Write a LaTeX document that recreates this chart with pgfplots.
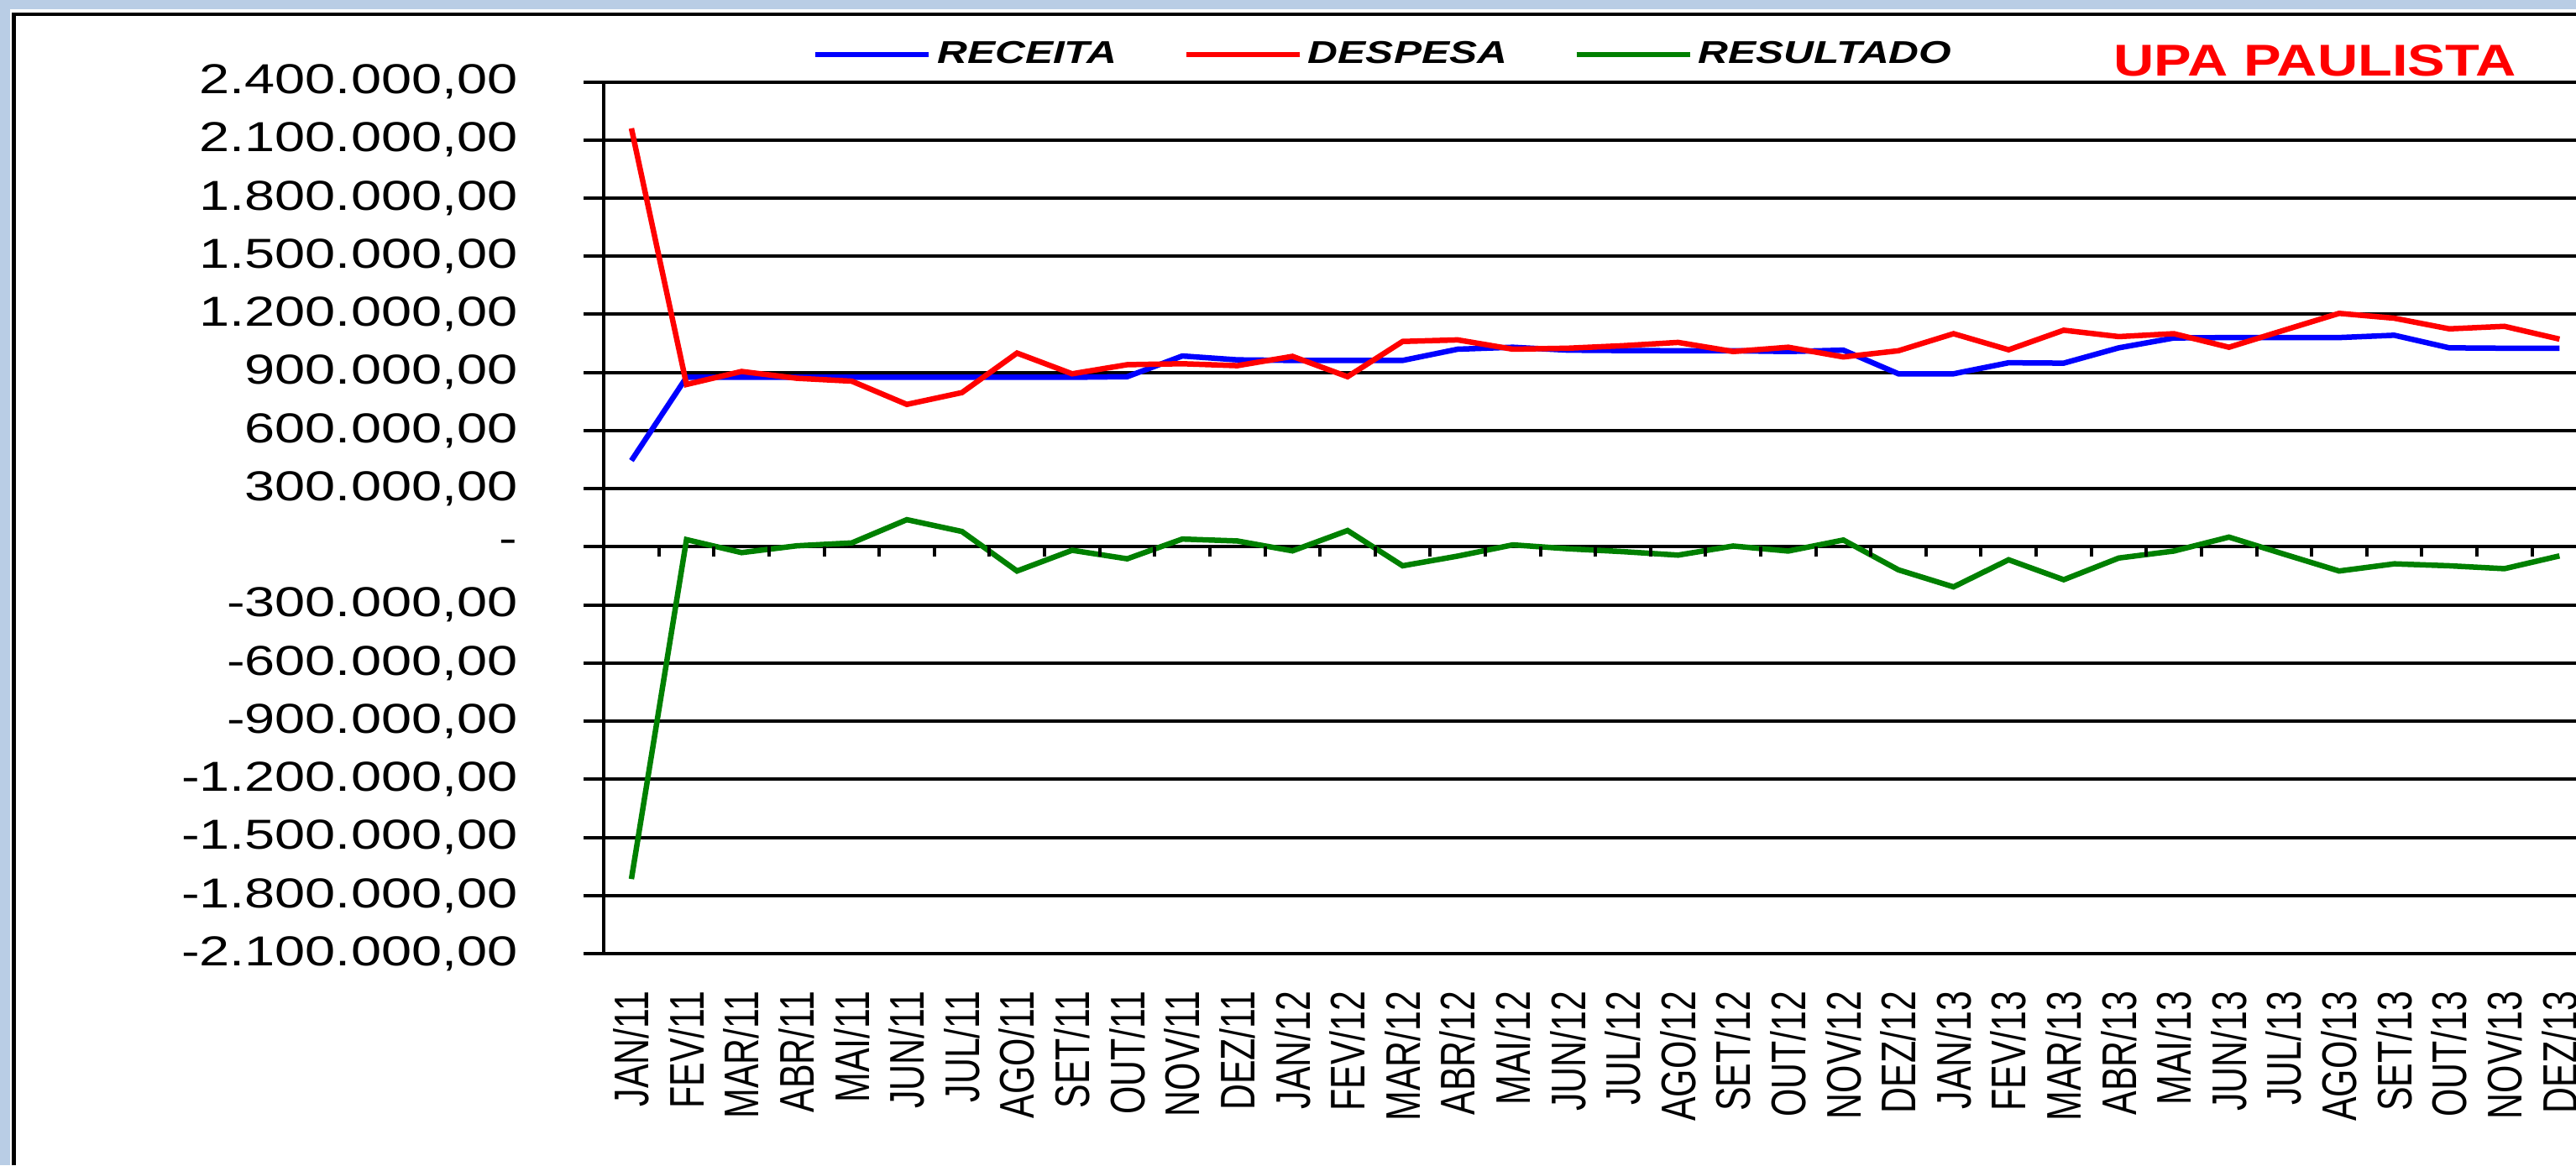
\documentclass[border=0pt]{standalone}
\usepackage{pgfplots}
\pgfplotsset{compat=1.18}
\usepackage{pgfplotstable}
\usepackage{graphicx}
\usepackage{fontspec}
\setmainfont{Liberation Sans}
\definecolor{bgblue}{RGB}{185,205,229}
\definecolor{exgreen}{RGB}{0,128,0}

\pgfplotstableread{
i receita despesa resultado
0 445000 2160000 -1715000
1 875000 838000 37000
2 875000 905000 -30000
3 875000 870000 5000
4 875000 855000 20000
5 875000 735000 140000
6 875000 796000 79000
7 875000 1000000 -125000
8 875000 893000 -18000
9 878000 940000 -62000
10 985000 945000 40000
11 965000 935000 30000
12 962000 983000 -21000
13 962000 878000 84000
14 962000 1060000 -98000
15 1020000 1068000 -48000
16 1030000 1020000 10000
17 1015000 1025000 -10000
18 1013000 1038000 -25000
19 1012000 1055000 -43000
20 1012000 1008000 4000
21 1008000 1030000 -22000
22 1015000 980000 35000
23 893000 1012000 -119000
24 893000 1100000 -207000
25 950000 1017000 -67000
26 948000 1118000 -170000
27 1027000 1085000 -58000
28 1078000 1100000 -22000
29 1080000 1030000 50000
30 1080000 1118000 -38000
31 1080000 1205000 -125000
32 1092000 1180000 -88000
33 1027000 1125000 -98000
34 1025000 1138000 -113000
35 1025000 1072000 -47000
}\datatable

\newcommand{\yl}[1]{\scalebox{1.3}[1]{#1}}
\newcommand{\xl}[1]{\scalebox{1}[1.35]{#1}}

\begin{document}
\begin{tikzpicture}
\useasboundingbox (0,0) rectangle (30.68,13.88);
\fill[bgblue] (0,0) rectangle (30.68,13.88);
\fill[white] (0.12,0) rectangle (30.68,13.77);
\draw[black, line width=0.045cm] (0.165,0) -- (0.165,13.71) -- (30.68,13.71);
\clip (0,0) rectangle (30.68,13.88);
\begin{axis}[
  at={(7.192cm,2.52cm)}, anchor=south west,
  scale only axis, width=23.488cm, height=10.385cm,
  xmin=-0.5, xmax=35.3, ymin=-2100000, ymax=2400000,
  axis y line*=left, axis x line*=bottom,
  x axis line style={line width=0.04cm, black},
  y axis line style={line width=0.045cm, black},
  ytick={-2100000,-1800000,-1500000,-1200000,-900000,-600000,-300000,0,300000,600000,900000,1200000,1500000,1800000,2100000,2400000},
  yticklabels={\yl{-2.100.000,00},\yl{-1.800.000,00},\yl{-1.500.000,00},\yl{-1.200.000,00},\yl{-900.000,00},\yl{-600.000,00},\yl{-300.000,00},\yl{-}\hspace{0.22cm},\yl{300.000,00},\yl{600.000,00},\yl{900.000,00},\yl{1.200.000,00},\yl{1.500.000,00},\yl{1.800.000,00},\yl{2.100.000,00},\yl{2.400.000,00}},
  scaled y ticks=false,
  ymajorgrids, major grid style={black, line width=0.04cm},
  ytick align=outside, major tick length=0.24cm,
  ytick style={black, line width=0.04cm},
  yticklabel style={font=\fontsize{14.2}{16}\selectfont, inner sep=0pt, anchor=east, xshift=-0.78cm},
  xtick={0,1,...,35},
  xticklabels={\xl{JAN/11},\xl{FEV/11},\xl{MAR/11},\xl{ABR/11},\xl{MAI/11},\xl{JUN/11},\xl{JUL/11},\xl{AGO/11},\xl{SET/11},\xl{OUT/11},\xl{NOV/11},\xl{DEZ/11},\xl{JAN/12},\xl{FEV/12},\xl{MAR/12},\xl{ABR/12},\xl{MAI/12},\xl{JUN/12},\xl{JUL/12},\xl{AGO/12},\xl{SET/12},\xl{OUT/12},\xl{NOV/12},\xl{DEZ/12},\xl{JAN/13},\xl{FEV/13},\xl{MAR/13},\xl{ABR/13},\xl{MAI/13},\xl{JUN/13},\xl{JUL/13},\xl{AGO/13},\xl{SET/13},\xl{OUT/13},\xl{NOV/13},\xl{DEZ/13}},
  xtick align=inside, xtick style={draw=none},
  xticklabel style={font=\fontsize{12.2}{14}\selectfont, inner sep=0pt, yshift=-0.44cm, rotate=90, anchor=east},
  legend columns=3,
  legend style={draw=none, fill=none, at={(axis description cs:0.1055,1.0313)}, anchor=west, inner sep=0pt,
    font=\bfseries\itshape\fontsize{10.7}{12}\selectfont,
    /tikz/every even column/.append style={column sep=0.72cm}},
  legend image code/.code={\draw[#1] (0cm,0cm) -- (1.35cm,0cm);},
  title={\scalebox{1.26}[1]{UPA PAULISTA}},
  title style={at={(axis description cs:0.8676,0.9867)}, anchor=base, font=\bfseries\fontsize{15.1}{18}\selectfont, text=red, inner sep=0pt},
]
\addplot[blue, line width=0.065cm] table[x=i, y=receita] {\datatable};
\addlegendentry{\scalebox{1.32}[1]{RECEITA}}
\addplot[red, line width=0.065cm] table[x=i, y=despesa] {\datatable};
\addlegendentry{\scalebox{1.32}[1]{DESPESA}}
\addplot[exgreen, line width=0.065cm] table[x=i, y=resultado] {\datatable};
\addlegendentry{\scalebox{1.32}[1]{RESULTADO}}
\end{axis}
\begin{axis}[
  at={(7.192cm,7.366cm)}, anchor=south west,
  scale only axis, width=23.488cm, height=1cm,
  xmin=-0.5, xmax=35.3, ymin=0, ymax=1,
  axis x line*=bottom, axis y line=none,
  x axis line style={draw=none},
  xtick={0.5,1.5,...,34.5}, xticklabels={},
  xtick align=outside, major tick length=0.12cm,
  xtick style={black, line width=0.04cm},
]
\end{axis}
\end{tikzpicture}
\end{document}
